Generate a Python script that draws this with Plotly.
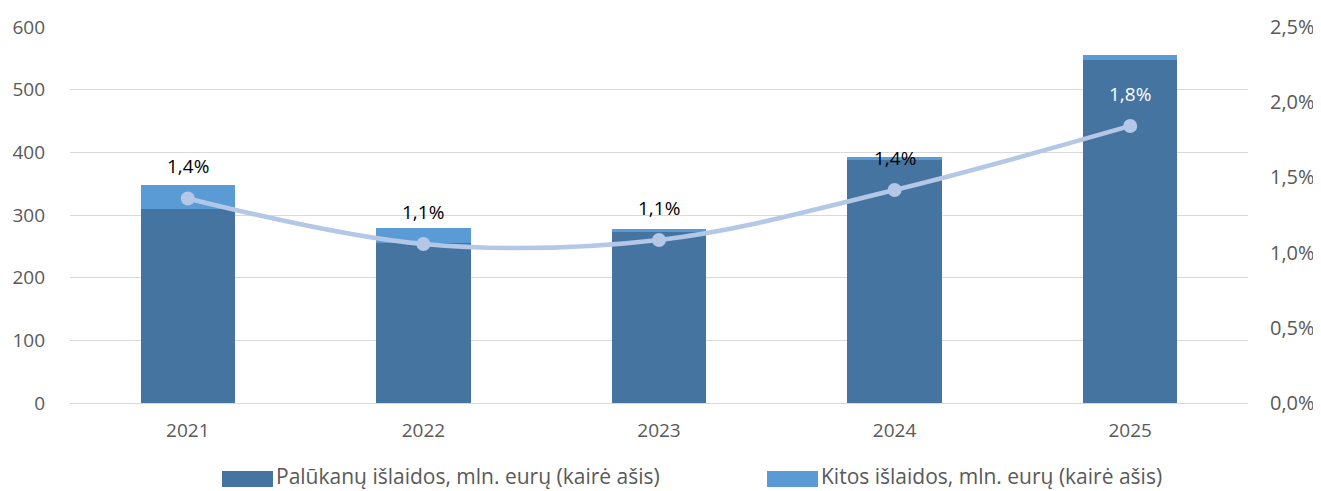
import plotly.graph_objects as go

years = ["2021", "2022", "2023", "2024", "2025"]
interest = [310, 255, 273, 388, 548]
other = [38, 24, 4, 4, 7]
share = [0.0136, 0.01057, 0.01084, 0.01416, 0.01842]
share_labels = ["1,4%", "1,1%", "1,1%", "1,4%", "1,8%"]
label_colors = ["black", "black", "black", "black", "white"]

name1 = "Palūkanų išlaidos, mln. eurų (kairė ašis)"
name2 = "Kitos išlaidos, mln. eurų (kairė ašis)"

FONT = "'Open Sans', sans-serif"
C_DARK = "#44749F"
C_LIGHT = "#5B9BD5"
C_LINE = "#B4C7E7"
C_TXT = "#595959"

# page body has an 8px margin; compensate so the plot area lands where the reference has it
OFF = 8
FIG_W, FIG_H = 1321 - OFF, 491 - OFF
L, R, T, B = 70 - OFF, 1248 - OFF, 27 - OFF, 403 - OFF
W, H = R - L, B - T

xpos = list(range(len(years)))

fig = go.Figure()
fig.add_trace(go.Bar(x=xpos, y=interest, name=name1, width=0.4,
                     marker=dict(color=C_DARK, line=dict(width=0)), showlegend=False))
fig.add_trace(go.Bar(x=xpos, y=other, name=name2, width=0.4,
                     marker=dict(color=C_LIGHT, line=dict(width=0)), showlegend=False))
fig.add_trace(go.Scatter(x=xpos, y=share, yaxis="y2", mode="lines+markers",
                         line=dict(color=C_LINE, width=4.5, shape="spline", smoothing=1.0),
                         marker=dict(color=C_LINE, size=14), showlegend=False))

for xi, v, t, c in zip(xpos, share, share_labels, label_colors):
    fig.add_annotation(x=xi, y=v, xref="x", yref="y2", text=t, showarrow=False, yshift=32,
                       font=dict(family=FONT, size=19, color=c))

def px(x):
    return (x - OFF - L) / W
def py(y):
    return (B - (y - OFF)) / H

for x0, x1, col, name in [(222, 273, C_DARK, name1), (767, 818, C_LIGHT, name2)]:
    fig.add_shape(type="rect", xref="paper", yref="paper", x0=px(x0), x1=px(x1),
                  y0=py(487), y1=py(471), fillcolor=col, line=dict(width=0))
    fig.add_annotation(xref="paper", yref="paper", x=px(x1 + 2), y=py(476), text=name,
                       showarrow=False, xanchor="left", yanchor="middle", borderpad=0,
                       font=dict(family=FONT, size=21, color=C_TXT))

fig.update_layout(
    width=FIG_W, height=FIG_H,
    margin=dict(l=L, r=FIG_W - R, t=T, b=FIG_H - B, autoexpand=False),
    barmode="stack",
    plot_bgcolor="white", paper_bgcolor="white",
    separators=", ",
    font=dict(family=FONT, size=19, color=C_TXT),
    xaxis=dict(range=[-0.5, len(years) - 0.5], tickmode="array", tickvals=xpos, ticktext=years,
               showgrid=False, showline=True, linecolor="#D9D9D9", linewidth=1, zeroline=False,
               ticks="", tickfont=dict(size=19, color=C_TXT), ticklabelstandoff=10),
    yaxis=dict(range=[0, 600], dtick=100, showgrid=True, gridcolor="#D9D9D9", gridwidth=1,
               zeroline=False, ticks="", tickfont=dict(size=19, color=C_TXT),
               ticklabelstandoff=24),
    yaxis2=dict(range=[0, 0.025], dtick=0.005, tickformat=".1%", overlaying="y", side="right",
                showgrid=False, zeroline=False, ticks="", tickfont=dict(size=20, color=C_TXT),
                ticklabelstandoff=21),
)

fig.write_html("out.html")
